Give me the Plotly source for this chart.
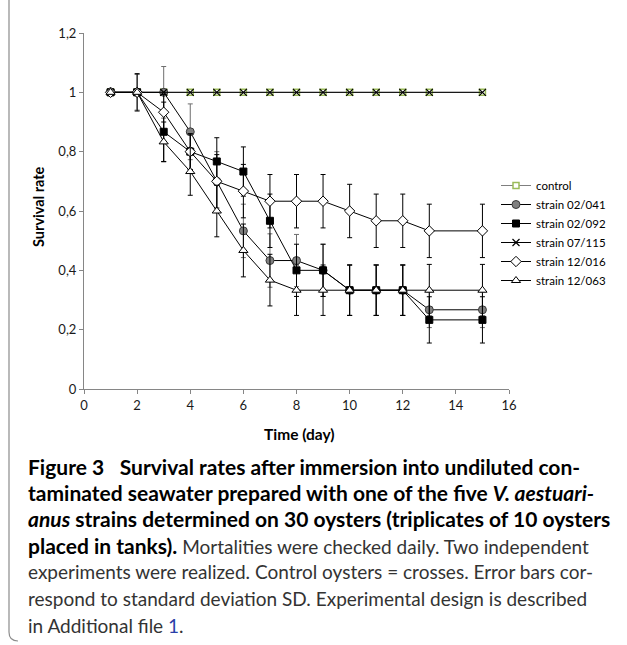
import plotly.graph_objects as go

W, H = 627, 645
PL, PR, PT, PB = 84, 509, 33, 389  # plot area in px

days = [1, 2, 3, 4, 5, 6, 7, 8, 9, 10, 11, 12, 13, 15]

control = [1, 1, 1, 1, 1, 1, 1, 1, 1, 1, 1, 1, 1, 1]
s02041 = [1, 1, 1, 0.867, 0.7, 0.533, 0.433, 0.433, 0.4, 0.333, 0.333, 0.333, 0.267, 0.267]
s02041_sd = [0, 0.06, 0.087, 0.094, 0.1, 0.09, 0.09, 0.088, 0.088, 0.085, 0.085, 0.085, 0.06, 0.06]
s02092 = [1, 1, 0.867, 0.8, 0.767, 0.733, 0.567, 0.4, 0.4, 0.333, 0.333, 0.333, 0.233, 0.233]
s02092_sd = [0, 0.063, 0.1, 0.06, 0.08, 0.083, 0.09, 0.088, 0.088, 0.085, 0.085, 0.085, 0.078, 0.078]
s07115 = [1, 1, 1, 1, 1, 1, 1, 1, 1, 1, 1, 1, 1, 1]
s12016 = [1, 1, 0.933, 0.8, 0.7, 0.667, 0.633, 0.633, 0.633, 0.6, 0.567, 0.567, 0.533, 0.533]
s12016_sd = [0, 0, 0.06, 0.06, 0.09, 0.09, 0.09, 0.09, 0.09, 0.09, 0.09, 0.09, 0.09, 0.09]
s12063 = [1, 1, 0.833, 0.733, 0.6, 0.467, 0.367, 0.333, 0.333, 0.333, 0.333, 0.333, 0.333, 0.333]
s12063_sd = [0, 0, 0.067, 0.08, 0.087, 0.089, 0.087, 0.085, 0.085, 0.085, 0.085, 0.085, 0.087, 0.087]

y_tickvals = [0, 0.2, 0.4, 0.6, 0.8, 1, 1.2]
y_ticktext = ["0", "0,2", "0,4", "0,6", "0,8", "1", "1,2"]
x_tickvals = [0, 2, 4, 6, 8, 10, 12, 14, 16]

B = "<span style='font-size:21px;color:#000000'><b>"
BE = "</b></span>"
caption_lines = [
    B + "Figure 3\u2002 Survival rates after immersion into undiluted con-" + BE,
    B + "taminated seawater prepared with one of the five <i>V. aestuari-</i>" + BE,
    B + "<i>anus</i> strains determined on 30 oysters (triplicates of 10 oysters" + BE,
    B + "placed in tanks)." + BE + " Mortalities were checked daily. Two independent",
    "experiments were realized. Control oysters = crosses. Error bars cor-",
    "respond to standard deviation SD. Experimental design is described",
    "in Additional file <span style='color:#2a3fa8'>1</span>.",
]
caption_y_px = [466.7, 492.0, 518.5, 545.0, 571.7, 598.3, 625.5]

CHART_FONT = "Lato"
CAP_FONT = "Lato"


def px2x(px):
    return (px - PL) / (PR - PL)


def px2y(py):
    return (PB - py) / (PB - PT)


fig = go.Figure()


def add(name, y, sd, symbol, fill, edge, size, ecolor="black", lcolor="black", lw=1, mlw=1):
    kw = {}
    if sd is not None:
        kw["error_y"] = dict(type="data", array=sd, visible=True, color=ecolor,
                             thickness=1, width=2.5)
    fig.add_trace(go.Scatter(
        x=days, y=y, name=name, mode="lines+markers",
        line=dict(color=lcolor, width=lw),
        marker=dict(symbol=symbol, size=size, color=fill,
                    line=dict(color=edge, width=mlw)),
        **kw))


add("control", control, None, "square", "#ffffff", "#9bbb59", 6, lcolor="#7f7f7f", mlw=1.5)
add("strain 02/041", s02041, s02041_sd, "circle", "#808080", "#3a3a3a", 8, ecolor="#6e6e6e")
add("strain 02/092", s02092, s02092_sd, "square", "#000000", "#000000", 7)
add("strain 07/115", s07115, None, "x-thin-open", "#000000", "#000000", 7, mlw=1.2)
add("strain 12/016", s12016, s12016_sd, "diamond", "#ffffff", "#000000", 8)
add("strain 12/063", s12063, s12063_sd, "triangle-up", "#ffffff", "#000000", 8)

axis_common = dict(showline=True, linecolor="#868686", linewidth=1, ticks="outside",
                   ticklen=4, tickcolor="#868686", showgrid=False, zeroline=False,
                   tickfont=dict(family=CHART_FONT, size=13, color="#1a1a1a"))
fig.update_xaxes(range=[0, 16], tickvals=x_tickvals, **axis_common)
fig.update_yaxes(range=[0, 1.2], tickvals=y_tickvals, ticktext=y_ticktext, **axis_common)

annotations = [
    dict(text="<b>Survival rate</b>", x=px2x(38), y=px2y(207), xref="paper", yref="paper",
         textangle=-90, showarrow=False, xanchor="center", yanchor="middle",
         font=dict(family=CHART_FONT, size=14.5, color="#000000")),
    dict(text="<b>Time (day)</b>", x=px2x(299), y=px2y(434), xref="paper", yref="paper",
         showarrow=False, xanchor="center", yanchor="middle",
         font=dict(family=CHART_FONT, size=15.5, color="#000000")),
]
for line, ypx in zip(caption_lines, caption_y_px):
    annotations.append(dict(text=line, x=px2x(26), y=px2y(ypx), xref="paper", yref="paper",
                            showarrow=False, xanchor="left", yanchor="middle", align="left",
                            font=dict(family=CAP_FONT, size=19, color="#333333")))

shapes = [
    dict(type="path", xref="paper", yref="paper",
         path=f"M {px2x(9)} {px2y(0)} L {px2x(9)} {px2y(632)} Q {px2x(9)} {px2y(641)} {px2x(18)} {px2y(641)}",
         line=dict(color="#8c8c8c", width=1.2)),
]

fig.update_layout(
    width=W, height=H,
    margin=dict(l=PL, r=W - PR, t=PT, b=H - PB, autoexpand=False),
    paper_bgcolor="white", plot_bgcolor="white",
    showlegend=True,
    legend=dict(x=px2x(496), y=px2y(171), xanchor="left", yanchor="top",
                font=dict(family=CHART_FONT, size=11.5, color="#000000"),
                bgcolor="rgba(0,0,0,0)", itemwidth=30, tracegroupgap=0),
    annotations=annotations, shapes=shapes,
    font=dict(family=CHART_FONT),
)

fig.write_html("out.html", config={"displayModeBar": False},
               post_script="document.body.style.margin='0px';")
